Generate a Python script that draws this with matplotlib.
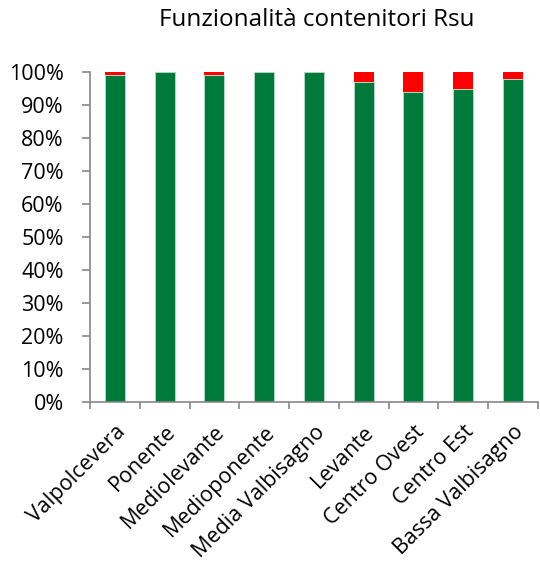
import matplotlib
matplotlib.use("Agg")
import matplotlib.pyplot as plt
from matplotlib.ticker import PercentFormatter

categories = ["Valpolcevera", "Ponente", "Mediolevante", "Medioponente", "Media Valbisagno",
              "Levante", "Centro Ovest", "Centro Est", "Bassa Valbisagno"]
funzionanti = [99, 100, 99, 100, 100, 97, 94, 95, 98]
non_funzionanti = [1, 0, 1, 0, 0, 3, 6, 5, 2]

plt.rcParams['font.family'] = ['Open Sans', 'DejaVu Sans']

fig = plt.figure(figsize=(5.4, 5.73), dpi=100)
ax = fig.add_axes([0.1667, 0.2984, 0.8293, 0.5756])

x = range(len(categories))
ax.bar(x, funzionanti, width=0.4, color="#007A3A", edgecolor="#b8dcc6", linewidth=0.6)
ax.bar(x, non_funzionanti, width=0.4, bottom=funzionanti, color="#FF0000", linewidth=0)

ax.set_xlim(-0.5, len(categories) - 0.5)
ax.set_ylim(0, 100)
ax.set_yticks(range(0, 101, 10))
ax.yaxis.set_major_formatter(PercentFormatter(decimals=0))
ax.set_xticks([i - 0.5 for i in range(len(categories) + 1)], minor=False)
ax.set_xticklabels([])
ax.set_xticks(list(x), minor=True)
ax.set_xticklabels(categories, minor=True, rotation=45, ha="right", va="top",
                   rotation_mode="anchor", fontsize=15.5)
ax.tick_params(axis="x", which="minor", length=0, pad=14)
ax.tick_params(axis="x", which="major", length=5, color="#888888", direction="out", width=1.2)
ax.tick_params(axis="y", length=6, color="#888888", width=1.2, labelsize=15.5, pad=13)

for s in ["top", "right"]:
    ax.spines[s].set_visible(False)
for s in ["left", "bottom"]:
    ax.spines[s].set_color("#888888")
    ax.spines[s].set_linewidth(1.2)

fig.text(0.587, 0.965, "Funzionalità contenitori Rsu", ha="center", va="center", fontsize=17.5)

fig.savefig("out.png", dpi=100)
